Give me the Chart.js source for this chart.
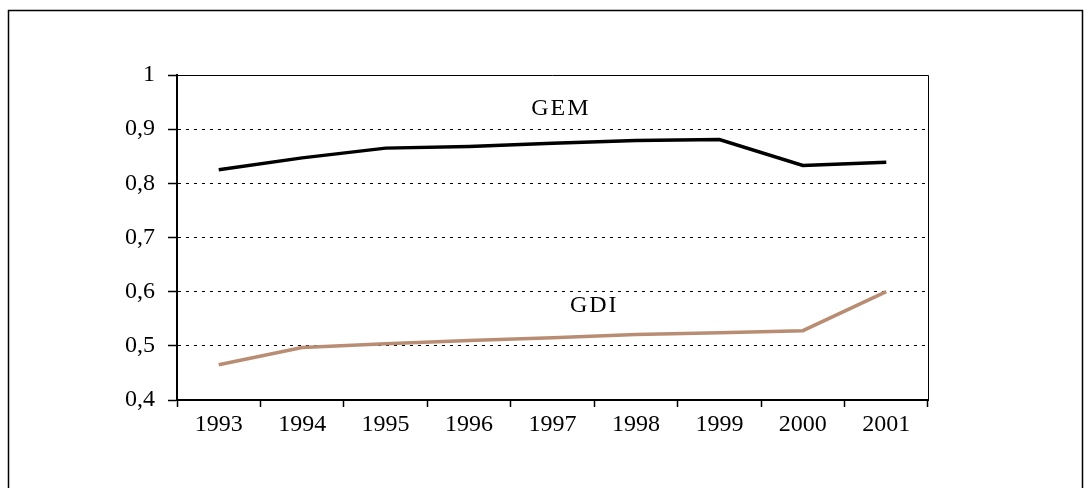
<!DOCTYPE html>
<html>
<head>
<meta charset="utf-8">
<script src="https://cdn.jsdelivr.net/npm/chart.js@4"></script>
<style>
    body { margin: 0; background: #fff; }
    canvas { display: block; }
</style>
</head>
<body>
<canvas id="chart" width="1092" height="488"></canvas>
<script>
const years = ['1993', '1994', '1995', '1996', '1997', '1998', '1999', '2000', '2001'];
const gemValues = [0.825, 0.847, 0.865, 0.868, 0.874, 0.879, 0.881, 0.833, 0.839];
const gdiValues = [0.465, 0.497, 0.504, 0.510, 0.515, 0.521, 0.524, 0.528, 0.600];
const yTicks = [0.4, 0.5, 0.6, 0.7, 0.8, 0.9, 1];
const yTickLabels = ['0,4', '0,5', '0,6', '0,7', '0,8', '0,9', '1'];

const serif = "'Liberation Serif', 'DejaVu Serif', serif";

// outer frame + thin top/right plot border + series names
const framePlugin = {
    id: 'frame',
    afterDraw(chart) {
        const ctx = chart.ctx;
        const area = chart.chartArea;
        ctx.save();
        ctx.strokeStyle = '#000';
        ctx.lineWidth = 1.5;
        ctx.beginPath();
        ctx.moveTo(8.5, 488);
        ctx.lineTo(8.5, 10.5);
        ctx.lineTo(1082.5, 10.5);
        ctx.lineTo(1082.5, 488);
        ctx.stroke();

        ctx.lineWidth = 1;
        ctx.beginPath();
        ctx.moveTo(area.left, area.top + 0.5);
        ctx.lineTo(area.right + 0.5, area.top + 0.5);
        ctx.lineTo(area.right + 0.5, area.bottom);
        ctx.stroke();

        const x = chart.scales.x;
        const y = chart.scales.y;
        ctx.fillStyle = '#000';
        ctx.font = '24px ' + serif;
        ctx.letterSpacing = '2px';
        ctx.textAlign = 'center';
        ctx.textBaseline = 'middle';
        ctx.fillText('GEM', x.getPixelForValue(4.1), y.getPixelForValue(0.937));
        ctx.fillText('GDI', x.getPixelForValue(4.5), y.getPixelForValue(0.575));
        ctx.restore();
    }
};

new Chart(document.getElementById('chart'), {
    type: 'line',
    data: {
        labels: years,
        datasets: [
            {
                label: 'GEM',
                data: gemValues,
                borderColor: '#000000',
                borderWidth: 3.5,
                pointRadius: 0,
                tension: 0
            },
            {
                label: 'GDI',
                data: gdiValues,
                borderColor: '#b98d73',
                borderWidth: 3.5,
                pointRadius: 0,
                tension: 0
            }
        ]
    },
    options: {
        responsive: false,
        animation: false,
        layout: {
            padding: { left: 0, top: 75, right: 164, bottom: 0 }
        },
        plugins: {
            legend: { display: false },
            tooltip: { enabled: false }
        },
        scales: {
            x: {
                offset: true,
                afterFit(scale) { scale.height = 88; },
                grid: {
                    offset: true,
                    drawOnChartArea: false,
                    tickLength: 7,
                    tickColor: '#000',
                    tickWidth: 1.5
                },
                border: { color: '#000', width: 2 },
                ticks: {
                    color: '#000',
                    padding: 3,
                    font: { family: serif, size: 24 }
                }
            },
            y: {
                min: 0.4,
                max: 1,
                afterFit(scale) { scale.width = 177; },
                afterBuildTicks(scale) {
                    scale.ticks = yTicks.map(v => ({ value: v }));
                },
                grid: {
                    color: ctx => (ctx.tick && (ctx.tick.value === 0.4 || ctx.tick.value === 1)) ? 'rgba(0,0,0,0)' : '#000',
                    lineWidth: 1,
                    tickLength: 9,
                    tickColor: '#000',
                    tickWidth: 1.5,
                    tickBorderDash: []
                },
                border: { color: '#000', width: 2, dash: [3, 5] },
                ticks: {
                    color: '#000',
                    padding: 13,
                    font: { family: serif, size: 24 },
                    callback: (value, index) => yTickLabels[index]
                }
            }
        }
    },
    plugins: [framePlugin]
});
</script>
</body>
</html>
